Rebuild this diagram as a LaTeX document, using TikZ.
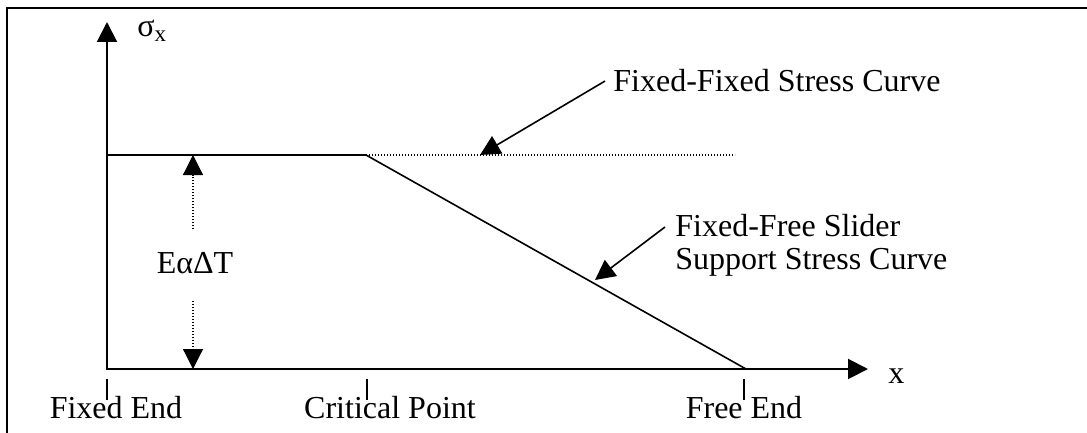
\documentclass[tikz,border=0pt]{standalone}
\usepackage{fontspec}
\setmainfont{Liberation Serif}
\usetikzlibrary{arrows.meta}
\begin{document}
\begin{tikzpicture}[x=0.5pt,y=-0.5pt,
  lbl/.style={font=\fontsize{16}{16.5}\selectfont, inner sep=0pt},
  headtip/.style={-{Triangle[length=10pt,width=10pt]}},
  axisline/.style={line width=1pt},
  curve/.style={line width=0.8pt},
  dotline/.style={line width=0.6pt, dash pattern=on 0.6pt off 0.9pt},
  tick/.style={line width=0.7pt},
  frame/.style={line width=1.3pt}]
\useasboundingbox (0,0) rectangle (1087,433);

% partial frame
\draw[frame] (7,433) -- (7,8) -- (1087,8);

% key points
\coordinate (O) at (107,369);
\coordinate (Ytip) at (107,22);
\coordinate (Xtip) at (868,369);
\coordinate (plateauL) at (107,155);
\coordinate (crit) at (366,155);
\coordinate (free) at (746,369);
\coordinate (dotEnd) at (735,155);

% axes
\draw[axisline, {Triangle[length=10pt,width=10pt]}-{Triangle[length=10pt,width=10pt]}]
  (Ytip) -- (O) -- (Xtip);
\node[lbl, anchor=base west] (sig) at (137,37)
  {σ{\fontsize{11.5}{11.5}\selectfont\raisebox{-2.5pt}{x}}};
\node[lbl, anchor=base west] (xl) at (888,383) {x};

% stress curves
\draw[curve] (plateauL) -- (crit) -- (free);
\draw[dotline] (crit) -- (dotEnd);

% ticks and position labels
\coordinate (t1a) at (107,379); \coordinate (t1b) at (107,400);
\coordinate (t2a) at (367,379); \coordinate (t2b) at (367,400);
\coordinate (t3a) at (744,379); \coordinate (t3b) at (744,400);
\draw[tick] (t1a) -- (t1b);
\draw[tick] (t2a) -- (t2b);
\draw[tick] (t3a) -- (t3b);
\node[lbl, anchor=base] (fixedEnd) at (116,418) {Fixed End};
\node[lbl, anchor=base] (critPt) at (390,418) {Critical Point};
\node[lbl, anchor=base] (freeEnd) at (744,418) {Free End};

% thermal stress dimension
\node[lbl, anchor=base] (eat) at (195,273) {EαΔT};
\coordinate (dUp) at (193,155);
\coordinate (dDown) at (193,369);
\draw[dotline, headtip] (eat.north -| dUp) ++(0,-22) -- (dUp);
\draw[dotline, headtip] (eat.south -| dDown) ++(0,27) -- (dDown);

% curve callouts
\node[lbl, anchor=base west] (ffLabel) at (613,92) {Fixed-Fixed Stress Curve};
\coordinate (ffTip) at (480,155);
\draw[curve, headtip] ([xshift=-4pt]ffLabel.west) -- (ffTip);

\node[lbl, anchor=north west, align=left] (fsLabel) at (675,214)
  {Fixed-Free Slider\\Support Stress Curve};
\coordinate (fsTip) at (595,280);
\draw[curve, headtip] ([shift={(-10,13)}]fsLabel.north west) -- (fsTip);
\end{tikzpicture}
\end{document}
